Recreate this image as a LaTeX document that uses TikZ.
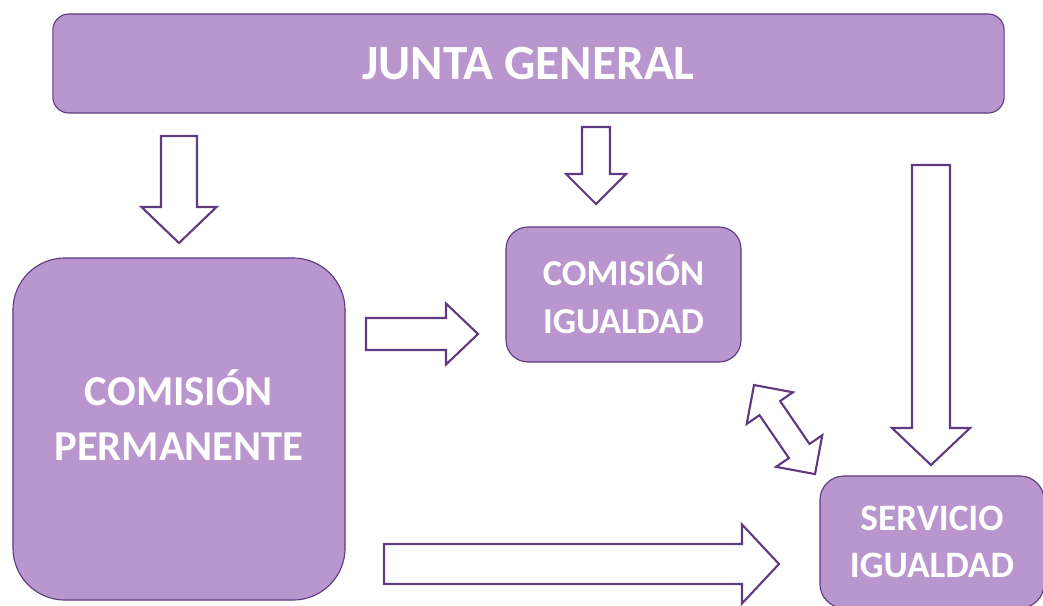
\documentclass[tikz,border=0pt]{standalone}
\usepackage{fontspec}
\setmainfont{Carlito}
\usetikzlibrary{positioning}

\definecolor{lila}{RGB}{185,150,206}
\definecolor{morado}{RGB}{94,58,128}

\tikzset{
    organo/.style={draw=morado, line width=0.8pt, fill=lila, text=white,
        font=\bfseries, align=center, inner sep=0pt},
    flecha/.style={draw=morado, line width=1.5pt, fill=white, line join=miter}
}

% #1 angle, #2 tail, #3 length, #4 shaft half width, #5 head half width, #6 head length
\newcommand{\flechagorda}[6]{%
    \draw[flecha, shift={(#2)}, rotate=#1] (0,-#4) -- ({#3-#6},-#4) -- ({#3-#6},-#5)
        -- (#3,0) -- ({#3-#6},#5) -- ({#3-#6},#4) -- (0,#4) -- cycle;}
\newcommand{\flechadoble}[6]{%
    \draw[flecha, shift={(#2)}, rotate=#1] (0,0) -- (#6,-#5) -- (#6,-#4) -- ({#3-#6},-#4)
        -- ({#3-#6},-#5) -- (#3,0) -- ({#3-#6},#5) -- ({#3-#6},#4) -- (#6,#4) -- (#6,#5) -- cycle;}

\begin{document}
\begin{tikzpicture}[x=0.025cm, y=-0.025cm]

            % the frame
            \path[use as bounding box, clip] (0,0) rectangle (1043,605);

            % the boxes
            \node[organo, minimum width=23.775cm, minimum height=2.475cm, rounded corners=0.4cm,
                font=\bfseries\fontsize{35}{40}\selectfont] (junta) at (528.5,63.5) {JUNTA GENERAL};
            \node[organo, minimum width=8.3cm, minimum height=8.55cm, rounded corners=1.3cm,
                text depth=0.7cm, font=\bfseries\fontsize{30.3}{39}\selectfont] (permanente) at (179,429)
                {COMISIÓN\\PERMANENTE};
            \node[organo, minimum width=5.875cm, minimum height=3.375cm, rounded corners=0.55cm,
                font=\bfseries\fontsize{26}{34}\selectfont] (comision) at (623.5,294.5)
                {COMISIÓN\\IGUALDAD};
            \node[organo, minimum width=5.6cm, minimum height=3.3cm, rounded corners=0.6cm,
                font=\bfseries\fontsize{26.5}{34}\selectfont] (servicio) at (932,542)
                {SERVICIO\\IGUALDAD};

            % the arrows
            \flechagorda{-90}{179,136}{107}{18}{37.5}{36}
            \flechagorda{-90}{596,127}{77}{14}{30}{30}
            \flechagorda{-90}{931,165}{300}{19}{39}{37}
            \flechagorda{0}{366,334}{112}{16}{30.5}{32}
            \flechagorda{0}{384,564}{395}{20}{39.5}{37}
            \flechadoble{-55.6}{754,385}{108}{12.5}{28}{28}

        \end{tikzpicture}
\end{document}
